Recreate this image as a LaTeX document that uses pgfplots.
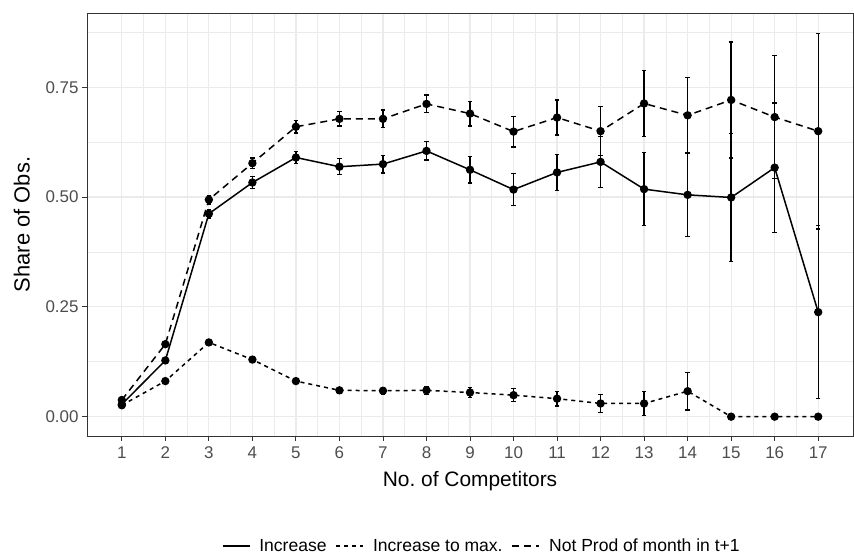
\documentclass[border=0pt]{standalone}
\usepackage{fontspec}
\setmainfont{Liberation Sans}
\usepackage{pgfplots}
\usepackage{pgfplotstable}
\pgfplotsset{compat=1.18}
\definecolor{gridc}{HTML}{EBEBEB}
\definecolor{tickc}{HTML}{4D4D4D}
\definecolor{framec}{HTML}{333333}

\pgfplotstableread{
x y e
1 0.028 0.004
2 0.128 0.006
3 0.462 0.010
4 0.533 0.013
5 0.590 0.014
6 0.569 0.018
7 0.575 0.020
8 0.605 0.021
9 0.562 0.030
10 0.517 0.036
11 0.556 0.041
12 0.580 0.058
13 0.518 0.083
14 0.505 0.095
15 0.499 0.145
16 0.567 0.147
17 0.238 0.197
}\incr

\pgfplotstableread{
x y e
1 0.026 0.003
2 0.081 0.004
3 0.169 0.006
4 0.130 0.006
5 0.081 0.006
6 0.060 0.007
7 0.059 0.008
8 0.060 0.009
9 0.055 0.012
10 0.049 0.015
11 0.041 0.017
12 0.030 0.020
13 0.030 0.028
14 0.058 0.043
15 0 0
16 0 0
17 0 0
}\incrmax

\pgfplotstableread{
x y e
1 0.038 0.004
2 0.165 0.006
3 0.494 0.010
4 0.577 0.012
5 0.660 0.014
6 0.678 0.016
7 0.678 0.020
8 0.712 0.020
9 0.690 0.028
10 0.649 0.035
11 0.681 0.040
12 0.650 0.056
13 0.713 0.075
14 0.686 0.086
15 0.721 0.132
16 0.682 0.140
17 0.650 0.223
}\notprod

\begin{document}
\begin{tikzpicture}
\begin{axis}[
  scale only axis, width=766bp, height=423bp,
  xmin=0.2, xmax=17.8, ymin=-0.044, ymax=0.919,
  xtick={1,...,17}, ytick={0,0.25,0.5,0.75},
  minor xtick={1.5,2.5,...,16.5},
  minor ytick={0.125,0.375,0.625,0.875},
  xtick pos=bottom, ytick pos=left,
  grid=both,
  major grid style={gridc, line width=1.2bp},
  minor grid style={gridc, line width=0.6bp},
  axis line style={framec, line width=0.9bp},
  tick align=outside,
  major tick length=5bp, minor tick length=0bp,
  tick style={framec, line width=0.9bp},
  ticklabel style={font=\fontsize{17}{20}\selectfont, text=tickc},
  xticklabel style={yshift=-2bp},
  /pgf/number format/assume math mode=true,
  yticklabel style={/pgf/number format/.cd, fixed, fixed zerofill, precision=2},
  xlabel={No.\ of Competitors}, ylabel={Share of Obs.},
  xlabel style={font=\fontsize{21}{24}\selectfont, at={(axis description cs:0.5,-0.106)}, anchor=center},
  ylabel style={font=\fontsize{22}{25}\selectfont, at={(axis description cs:-0.085,0.5)}, anchor=center},
  legend style={at={(axis description cs:0.514,-0.26)}, anchor=center,
    draw=none, fill=none, font=\fontsize{17.6}{20}\selectfont,
    inner sep=0pt,
    nodes={inner xsep=0pt},
    /tikz/every even column/.append style={column sep=9bp},
    /tikz/every odd column/.append style={column sep=9bp}},
  legend columns=-1,
  legend image code/.code={\draw[#1] (0bp,0bp) -- (27bp,0bp);},
  every axis plot/.append style={black, line width=1.5bp},
  error bars/error bar style={solid, black, line width=1.3bp},
  error bars/error mark=|,
  error bars/error mark options={solid, black, line width=1.3bp, mark size=2.3bp},
]
\coordinate (sw) at (rel axis cs:0,0);
\addplot[solid, mark=*, mark size=3.4bp, mark options={solid},
  error bars/.cd, y dir=both, y explicit]
  table[x=x, y=y, y error=e] {\incr};
\addlegendentry{Increase}
\addplot[dash pattern=on 4bp off 4bp, mark=*, mark size=3.4bp, mark options={solid},
  error bars/.cd, y dir=both, y explicit]
  table[x=x, y=y, y error=e] {\incrmax};
\addlegendentry{Increase to max.}
\addplot[dash pattern=on 7bp off 5bp, mark=*, mark size=3.4bp, mark options={solid},
  error bars/.cd, y dir=both, y explicit]
  table[x=x, y=y, y error=e] {\notprod};
\addlegendentry{Not Prod of month in t+1}
\end{axis}
\path (sw) ++(-87bp,-118bp) rectangle ++(854bp,554bp);
\end{tikzpicture}
\end{document}
